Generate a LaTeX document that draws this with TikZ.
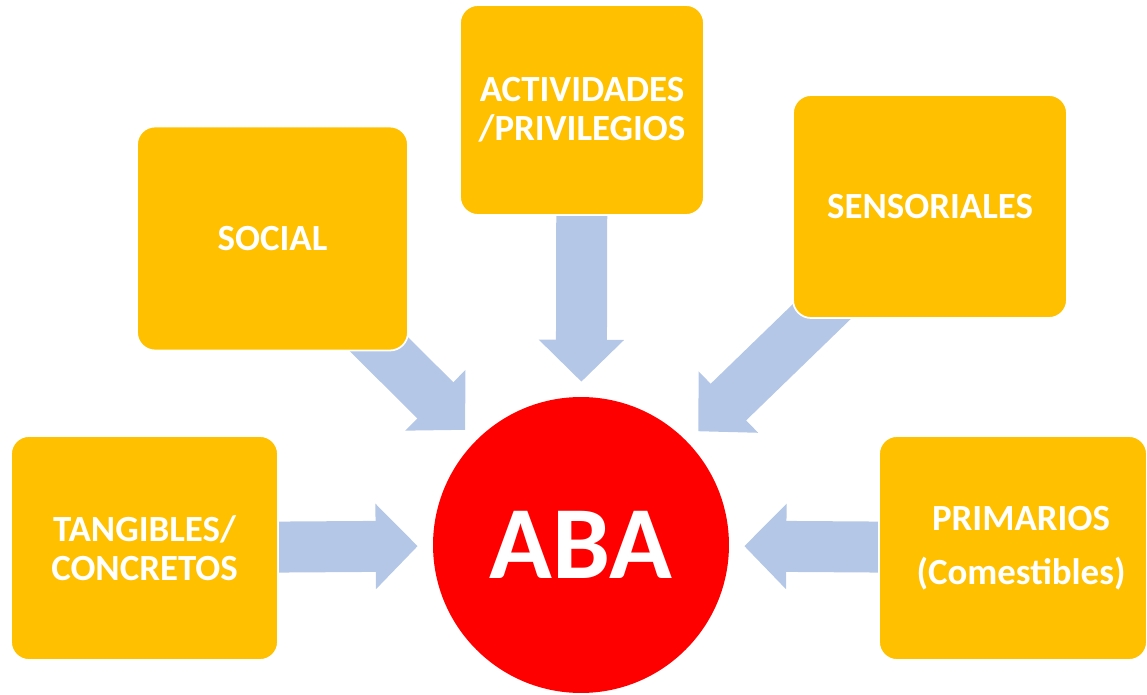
\documentclass[tikz,border=0pt]{standalone}
\usepackage{fontspec}
\setmainfont{Carlito}
\usetikzlibrary{arrows.meta,backgrounds}

\definecolor{amber}{HTML}{FFC000}
\definecolor{abared}{HTML}{FF0000}
\definecolor{arrowblue}{HTML}{B4C7E7}

\begin{document}
\begin{tikzpicture}[
    x=0.02cm, y=-0.02cm,
    box/.style={rectangle, draw=white, line width=1pt, fill=amber, text=white, align=center, rounded corners=0.36cm, inner sep=0pt, font=\fontsize{21}{22}\selectfont\bfseries},
    center/.style={circle, fill=abared, text=white, minimum size=5.92cm, inner sep=0pt, font=\fontsize{59}{59}\selectfont\bfseries},
    bigarrow/.style={draw=arrowblue, line width=1.02cm, -{Triangle[length=0.84cm,width=1.66cm]}, shorten <=-1cm, shorten >=0.3cm}
]
\useasboundingbox (0,0) rectangle (1147,695);

% Reforzadores
\node[box, minimum width=5.42cm, minimum height=4.48cm] (social) at (272.5,238.5) {SOCIAL};
\node[box, minimum width=4.88cm, minimum height=4.2cm] (actividades) at (582,110) {ACTIVIDADES\\/PRIVILEGIOS};
\node[box, minimum width=5.48cm, minimum height=4.46cm] (sensoriales) at (930,206.5) {SENSORIALES};
\node[box, minimum width=5.34cm, minimum height=4.48cm] (tangibles) at (144.5,548) {TANGIBLES/\\CONCRETOS};
\node[box, minimum width=5.36cm, minimum height=4.48cm] (primarios) at (1013,548) {\hspace*{0.32cm}PRIMARIOS\\[0.3cm]\hspace*{0.32cm}(Comestibles)};

% Centro
\node[center] (aba) at (581,545) {ABA};

% Flechas
\begin{scope}[on background layer]
\draw[bigarrow] (social) -- (aba);
\draw[bigarrow] (actividades) -- (aba);
\draw[bigarrow] (sensoriales) -- (aba);
\draw[bigarrow] (tangibles) -- (aba);
\draw[bigarrow] (primarios) -- (aba);
\end{scope}

\end{tikzpicture}
\end{document}
